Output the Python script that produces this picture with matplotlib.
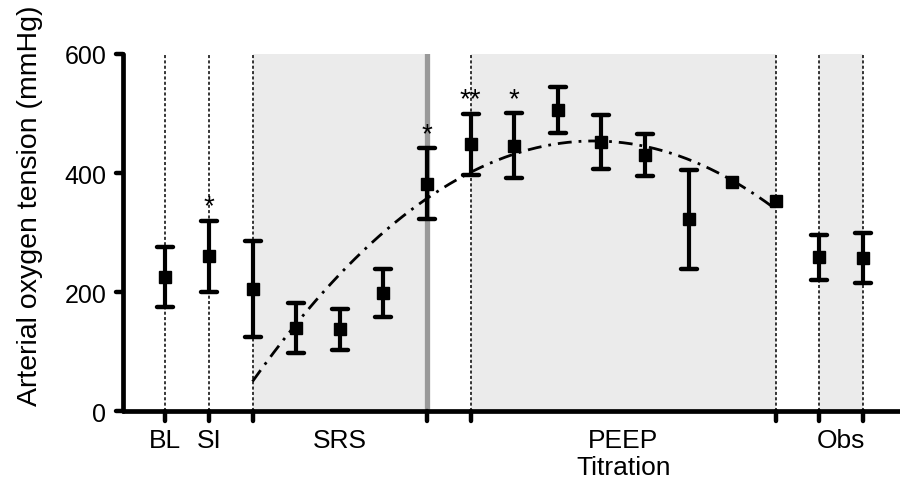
import numpy as np
import matplotlib.pyplot as plt
from matplotlib.markers import MarkerStyle

plt.rcParams['font.family'] = ['Liberation Sans', 'DejaVu Sans']

pos = np.arange(17)
means = [225, 260, 205, 140, 137, 198, 382, 448, 446, 506, 452, 430, 322, 385, 353, 258, 257]
errs = [50, 60, 80, 42, 35, 40, 60, 52, 55, 39, 45, 35, 83, 0, 0, 38, 42]

# significance marks
star_pos = [1, 6, 7, 8]
star_txt = ['*', '*', '**', '*']

# dash-dot trend line (read at each step of the SRS / PEEP range)
curve_x = [2, 6, 7, 8, 9, 10, 11, 12, 13, 14]
curve_y = [47, 361, 405, 432, 449, 454, 444, 412, 385, 348]

# phase labels
phase_labels = ['BL', 'SI', 'SRS', 'PEEP\nTitration', 'Obs']
phase_pos = [0, 1, 4, 10.5, 15.5]
tick_pos = [0, 1, 2, 6, 7, 14, 15, 16]
dotted_pos = [0, 1, 2, 7, 14, 15, 16]

fig = plt.figure(figsize=(9, 4.85), dpi=100)
ax = fig.add_axes([0.1367, 0.1505, 0.8633, 0.7361])

# shaded phases
ax.axvspan(2, 6, color='#ebebeb', zorder=0, lw=0)
ax.axvspan(7, 14, color='#ebebeb', zorder=0, lw=0)
ax.axvspan(15, 16, color='#ebebeb', zorder=0, lw=0)

for p in dotted_pos:
    ax.plot([p, p], [0, 600], color='black', lw=1.1, ls=(0, (2, 1.5)), zorder=1)
ax.plot([6, 6], [0, 600], color='#999999', lw=3.8, zorder=1)

# fitted trend
coef = np.polyfit(curve_x, curve_y, 2)
xs = np.linspace(2, 14, 200)
ax.plot(xs, np.polyval(coef, xs), color='black', lw=2, ls=(0, (5, 2.5, 1, 2.5)), zorder=2)

# error bars only where there is a spread
eb = [i for i in pos if errs[i] > 0]
_, caps, bars = ax.errorbar([pos[i] for i in eb], [means[i] for i in eb],
                            yerr=[errs[i] for i in eb], fmt='none', ecolor='black',
                            elinewidth=3, capsize=5.8, capthick=3.2, zorder=3)
for c in caps:
    c.set_marker(MarkerStyle('_', capstyle='round'))
ax.plot(pos, means, 's', color='black', ms=9, zorder=4)

for p, t in zip(star_pos, star_txt):
    ax.text(p, means[p] + errs[p] + 2, t, ha='center', va='bottom', fontsize=20)

ax.set_xlim(-0.97, 16.85)
ax.set_ylim(0, 600)
ax.set_yticks([0, 200, 400, 600])
ax.set_xticks(tick_pos)
ax.set_xticklabels([])
ax.xaxis.remove_overlapping_locs = False
ax.set_xticks(phase_pos, minor=True)
ax.set_xticklabels(phase_labels, minor=True)
ax.tick_params(axis='x', which='minor', length=0, labelsize=19, pad=12)
ax.tick_params(axis='x', which='major', length=7, width=3.2)
ax.tick_params(axis='y', which='major', length=5, width=3.2, labelsize=18, pad=7)

for t in ax.yaxis.get_major_ticks():
    t.tick1line.set_marker(MarkerStyle(0, capstyle='round'))
for t in ax.xaxis.get_major_ticks():
    t.tick1line.set_marker(MarkerStyle(3, capstyle='round'))

for s in ['top', 'right']:
    ax.spines[s].set_visible(False)
for s in ['left', 'bottom']:
    ax.spines[s].set_linewidth(3.4)
    ax.spines[s].set_capstyle('round')

ax.set_ylabel('Arterial oxygen tension (mmHg)', fontsize=20.5)
ax.yaxis.set_label_coords(0.048, 0.575, transform=fig.transFigure)

fig.savefig('out.png', dpi=100)
